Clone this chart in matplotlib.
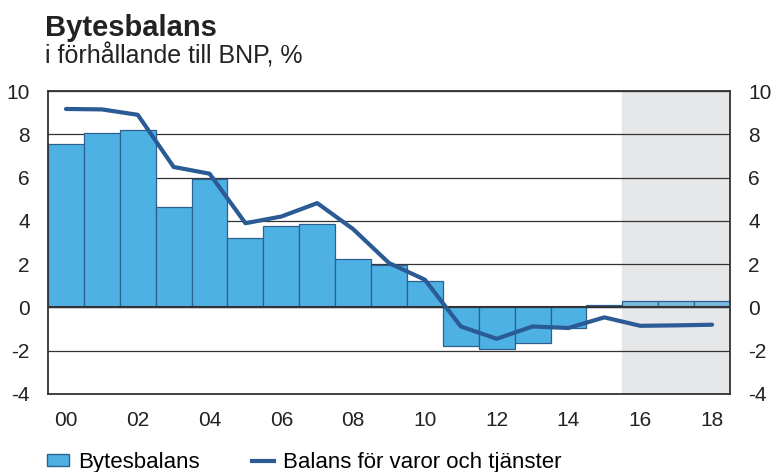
import numpy as np
import matplotlib.pyplot as plt
from matplotlib.patches import Patch
from matplotlib.lines import Line2D

plt.rcParams['font.family'] = ['Liberation Sans', 'DejaVu Sans']

years = list(range(2000, 2019))
bytesbalans = [7.54, 8.06, 8.18, 4.65, 5.95, 3.2, 3.78, 3.85, 2.23, 1.94,
               1.23, -1.78, -1.94, -1.63, -0.95, 0.12, 0.28, 0.31, 0.31]
varor_tjanster = [9.17, 9.15, 8.9, 6.49, 6.18, 3.89, 4.2, 4.82, 3.62, 2.05,
                  1.28, -0.88, -1.45, -0.88, -0.95, -0.46, -0.85, -0.83, -0.8]
forecast_start = 2016
xtick_labels = ["00", "02", "04", "06", "08", "10", "12", "14", "16", "18"]
yticks = [-4, -2, 0, 2, 4, 6, 8, 10]

bar_col = "#4eb1e4"
bar_edge = "#2d5f8f"
fc_col = "#7bb8de"
line_col = "#2b5b95"

fig = plt.figure(figsize=(7.71, 4.72), dpi=100)
ax = fig.add_axes([0.0623, 0.1653, 0.8845, 0.6419])

x = np.array(years)
ax.axvspan(forecast_start - 0.5, years[-1] + 0.5, color="#e6e7e8", zorder=0)
for yv in yticks:
    ax.axhline(yv, color="#333333", lw=0.9, zorder=1)
ax.axhline(0, color="#333333", lw=1.5, zorder=3)

cols = [fc_col if y >= forecast_start else bar_col for y in years]
ax.bar(x, bytesbalans, width=1.0, color=cols, edgecolor=bar_edge, linewidth=0.9, zorder=2)
ax.plot(x, varor_tjanster, color=line_col, lw=3, zorder=4, solid_capstyle="round")

ax.set_xlim(years[0] - 0.5, years[-1] + 0.5)
ax.set_ylim(-4, 10)
ax.set_xticks(x[::2])
ax.set_xticklabels(xtick_labels, fontsize=15)
ax.set_yticks(yticks)
ax.set_yticklabels([str(v) for v in yticks], fontsize=15)
ax.tick_params(axis='x', length=0, pad=12, colors="#222222")
ax.tick_params(axis='y', length=0, pad=13, colors="#222222", labelright=True)
for s in ax.spines.values():
    s.set_color("#333333")
    s.set_linewidth(1.3)

fig.text(0.059, 0.924, "Bytesbalans", fontsize=21, fontweight="bold", color="#222222")
fig.text(0.059, 0.866, "i förhållande till BNP, %", fontsize=18, color="#222222")

handles = [Patch(facecolor=bar_col, edgecolor=bar_edge, label="Bytesbalans"),
           Line2D([0], [0], color=line_col, lw=3, label="Balans för varor och tjänster")]
fig.legend(handles=handles, loc="lower left", bbox_to_anchor=(0.035, -0.044), ncol=2,
           frameon=False, handlelength=1.0, handleheight=0.45, columnspacing=2.35,
           handletextpad=0.4, prop={'size': 16})

fig.savefig("out.png", dpi=100)
